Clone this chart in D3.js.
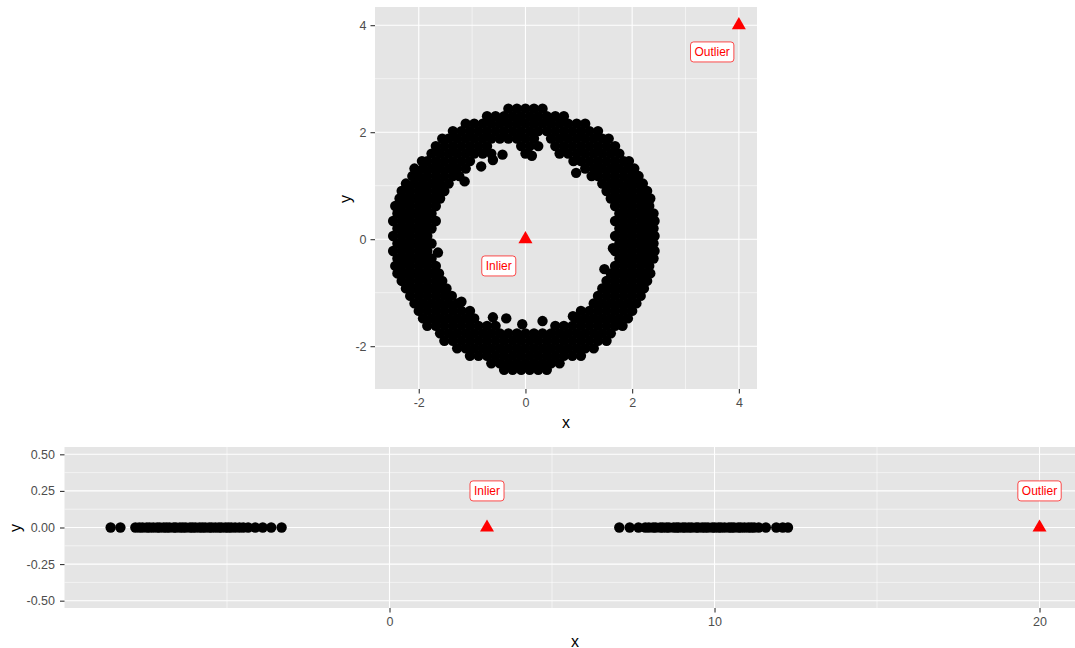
<!DOCTYPE html>
<html><head><meta charset="utf-8">
<script src="https://cdn.jsdelivr.net/npm/d3@7"></script>
<style>
body{margin:0;background:#fff}
svg{display:block}
text{font-family:"Liberation Sans",Arial,Helvetica,sans-serif}
</style>
</head><body>
<svg id="c" width="1075" height="648"></svg>
<script>
// ---------------- DATA ----------------
// Top panel: ring of points, stored row by row (y of row, x values in that row)
const ringRowY = [2.44, 2.30, 2.16, 2.02, 1.88, 1.74, 1.60, 1.46, 1.32, 1.18, 1.04, 0.90, 0.76, 0.62, 0.48, 0.34, 0.20, 0.06,
  -0.08, -0.22, -0.36, -0.50, -0.64, -0.78, -0.92, -1.06, -1.20, -1.34, -1.48, -1.62, -1.76, -1.90, -2.04, -2.18, -2.32, -2.44];
const ringRowX = [
  [-0.32,-0.16,0,0.16,0.32],
  [-0.72,-0.56,-0.4,-0.24,-0.08,0.08,0.24,0.4,0.56,0.72],
  [-1.12,-0.96,-0.8,-0.64,-0.48,-0.32,-0.16,0,0.16,0.32,0.48,0.64,0.8,0.96,1.12],
  [-1.36,-1.2,-1.04,-0.88,-0.72,-0.56,-0.4,-0.24,-0.08,0.08,0.24,0.4,0.56,0.72,0.88,1.04,1.2,1.36],
  [-1.56,-1.44,-1.28,-1.12,-0.96,-0.8,-0.64,-0.48,-0.32,-0.16,0,0.16,0.48,0.64,0.8,0.96,1.12,1.28,1.44,1.56],
  [-1.68,-1.52,-1.36,-1.2,-1.04,-0.88,-0.72,-0.08,0.08,0.24,0.56,0.72,0.88,1.04,1.2,1.36,1.52,1.68],
  [-1.76,-1.6,-1.44,-1.28,-1.12,-0.96,-0.8,-0.64,0,0.64,0.8,0.96,1.12,1.28,1.44,1.6,1.76],
  [-1.94,-1.84,-1.68,-1.52,-1.36,-1.2,-1.04,0.9,1.04,1.2,1.36,1.52,1.68,1.84,1.94],
  [-2.08,-1.92,-1.76,-1.6,-1.44,-1.28,-1.12,1.12,1.28,1.44,1.6,1.76,1.92,2.04],
  [-2.12,-2.0,-1.84,-1.68,-1.52,-1.36,-1.24,1.24,1.36,1.52,1.68,1.84,2.0,2.12],
  [-2.24,-2.08,-1.92,-1.76,-1.6,-1.44,1.44,1.6,1.76,1.92,2.08,2.2],
  [-2.32,-2.16,-2.0,-1.84,-1.68,-1.52,1.52,1.68,1.84,2.0,2.16,2.28],
  [-2.36,-2.24,-2.08,-1.92,-1.76,-1.6,1.6,1.76,1.92,2.08,2.24,2.34],
  [-2.44,-2.32,-2.16,-2.0,-1.84,-1.68,1.68,1.84,2.0,2.16,2.32],
  [-2.4,-2.24,-2.08,-1.92,-1.76,1.76,1.92,2.08,2.24,2.4],
  [-2.48,-2.32,-2.16,-2.0,-1.84,-1.68,1.68,1.84,2.0,2.16,2.32,2.42],
  [-2.4,-2.24,-2.08,-1.92,-1.76,1.76,1.92,2.08,2.24,2.4],
  [-2.48,-2.32,-2.16,-2.0,-1.84,1.68,1.84,2.0,2.16,2.32,2.42],
  [-2.4,-2.24,-2.08,-1.92,-1.76,1.76,1.92,2.08,2.24,2.4],
  [-2.48,-2.32,-2.16,-2.0,-1.84,1.68,1.84,2.0,2.16,2.32,2.42],
  [-2.4,-2.24,-2.08,-1.92,-1.76,1.76,1.92,2.08,2.24,2.4],
  [-2.44,-2.32,-2.16,-2.0,-1.84,-1.68,1.68,1.84,2.0,2.16,2.32],
  [-2.4,-2.24,-2.08,-1.92,-1.76,-1.62,1.6,1.76,1.92,2.08,2.24,2.34],
  [-2.32,-2.16,-2.0,-1.84,-1.68,-1.56,1.52,1.68,1.84,2.0,2.16,2.28],
  [-2.24,-2.08,-1.92,-1.76,-1.6,-1.48,1.44,1.6,1.76,1.92,2.08,2.22],
  [-2.16,-2.0,-1.84,-1.68,-1.52,-1.38,1.36,1.52,1.68,1.84,2.0,2.16],
  [-2.08,-1.92,-1.76,-1.6,-1.44,-1.28,1.28,1.44,1.6,1.76,1.92,2.08],
  [-2.0,-1.84,-1.68,-1.52,-1.36,-1.2,-1.04,1.04,1.2,1.36,1.52,1.68,1.84,2.0],
  [-1.92,-1.76,-1.6,-1.44,-1.28,-1.12,-0.96,0.96,1.12,1.28,1.44,1.6,1.76,1.92],
  [-1.84,-1.68,-1.52,-1.36,-1.2,-1.04,-0.88,-0.72,-0.56,0.56,0.72,0.88,1.04,1.2,1.36,1.52,1.68,1.82],
  [-1.6,-1.44,-1.28,-1.12,-0.96,-0.8,-0.64,-0.48,-0.32,-0.16,0,0.16,0.32,0.48,0.64,0.8,0.96,1.12,1.28,1.44,1.6],
  [-1.52,-1.36,-1.2,-1.04,-0.88,-0.72,-0.56,-0.4,-0.24,-0.08,0.08,0.24,0.4,0.56,0.72,0.88,1.04,1.2,1.36,1.52],
  [-1.28,-1.12,-0.96,-0.8,-0.64,-0.48,-0.32,-0.16,0,0.16,0.32,0.48,0.64,0.8,0.96,1.12,1.28],
  [-1.04,-0.88,-0.72,-0.56,-0.4,-0.24,-0.08,0.08,0.24,0.4,0.56,0.72,0.88,1.04],
  [-0.64,-0.48,-0.32,-0.16,0,0.16,0.32,0.48,0.64],
  [-0.4,-0.24,-0.08,0.08,0.24,0.4]
];
// scattered points on the inner side of the ring
const ringExtraX = [-0.43,-0.61,-0.83,-1.14,0.12,0.95,-1.64,1.64,1.48,0.89,-0.61,-0.36,0.32,-0.06,-1.2];
const ringExtraY = [1.58,1.48,1.36,1.08,1.56,1.24,-0.25,-0.17,-0.56,-1.44,-1.46,-1.48,-1.53,-1.59,-1.17];
const topMarkX = [0, 4];
const topMarkY = [0, 4];
const topLabelText = ["Inlier", "Outlier"];
const topLabelX = [-0.5, 3.5];
const topLabelY = [-0.5, 3.5];
const topTicks = [-2, 0, 2, 4];
const topTickLabels = ["-2", "0", "2", "4"];
const topMinor = [-1, 1, 3];

// Bottom panel: 1-D points at y = 0
const lineGroupA = [-8.58,-8.28,-7.82,-7.7,-7.6,-7.47,-7.38,-7.27,-7.15,-7.07,-6.95,-6.86,-6.77,-6.64,-6.57,-6.45,-6.36,
  -6.27,-6.14,-6.06,-5.97,-5.85,-5.76,-5.67,-5.55,-5.47,-5.36,-5.25,-5.17,-5.05,-4.96,-4.87,-4.75,-4.62,-4.5,-4.35,-4.13,-3.9,-3.64,-3.32];
const lineGroupB = [7.07,7.39,7.66,7.87,7.98,8.11,8.19,8.33,8.41,8.52,8.6,8.74,8.83,8.9,9.02,9.1,9.21,9.3,9.43,9.5,9.62,
  9.71,9.8,9.93,10.01,10.12,10.2,10.31,10.44,10.52,10.6,10.73,10.81,10.92,11.04,11.13,11.22,11.36,11.58,11.9,12.1,12.26];
const botMarkX = [3, 20];
const botMarkY = [0, 0];
const botLabelText = ["Inlier", "Outlier"];
const botLabelX = [3, 20];
const botLabelY = [0.25, 0.25];
const botXTicks = [0, 10, 20];
const botXTickLabels = ["0", "10", "20"];
const botXMinor = [-5, 5, 15];
const botYTicks = [-0.5, -0.25, 0, 0.25, 0.5];
const botYTickLabels = ["-0.50", "-0.25", "0.00", "0.25", "0.50"];
const botYMinor = [-0.375, -0.125, 0.125, 0.375];

// ---------------- DRAW ----------------
const svg = d3.select("#c");
const PANEL = "#e5e5e5";
const FONT = '"Liberation Sans",Arial,sans-serif';

function drawPanel(xs, ys, xMaj, xMin, yMaj, yMin) {
  const [x0, x1] = xs.range(), [y0, y1] = ys.range();
  const g = svg.append("g");
  g.append("rect").attr("x", x0).attr("y", y1).attr("width", x1 - x0).attr("height", y0 - y1).attr("fill", PANEL);
  g.selectAll(null).data(xMin).join("line")
    .attr("x1", d => xs(d)).attr("x2", d => xs(d)).attr("y1", y0).attr("y2", y1)
    .attr("stroke", "#fff").attr("stroke-width", 0.55);
  g.selectAll(null).data(yMin).join("line")
    .attr("y1", d => ys(d)).attr("y2", d => ys(d)).attr("x1", x0).attr("x2", x1)
    .attr("stroke", "#fff").attr("stroke-width", 0.55);
  g.selectAll(null).data(xMaj).join("line")
    .attr("x1", d => xs(d)).attr("x2", d => xs(d)).attr("y1", y0).attr("y2", y1)
    .attr("stroke", "#fff").attr("stroke-width", 1.1);
  g.selectAll(null).data(yMaj).join("line")
    .attr("y1", d => ys(d)).attr("y2", d => ys(d)).attr("x1", x0).attr("x2", x1)
    .attr("stroke", "#fff").attr("stroke-width", 1.1);
  return g;
}

function styleAxis(g) {
  g.select(".domain").remove();
  g.selectAll(".tick line").attr("stroke", "#333").attr("stroke-width", 1.1);
  g.selectAll(".tick text").attr("fill", "#4d4d4d").style("font-size", "12.5px").style("font-family", FONT);
}

function drawLabels(xs, ys, texts, lx, ly) {
  texts.forEach((t, i) => {
    const g = svg.append("g");
    const txt = g.append("text").attr("x", xs(lx[i])).attr("y", ys(ly[i]))
      .attr("text-anchor", "middle").attr("dominant-baseline", "central")
      .attr("fill", "#f00").style("font-size", "12px").text(t);
    const b = txt.node().getBBox();
    g.insert("rect", "text")
      .attr("x", b.x - 4).attr("y", ys(ly[i]) - 10).attr("width", b.width + 8).attr("height", 20)
      .attr("rx", 3).attr("fill", "#fff").attr("stroke", "#f00").attr("stroke-width", 0.7);
  });
}

function axisTitle(x, y, rot, t) {
  svg.append("text").attr("transform", `translate(${x},${y}) rotate(${rot})`).attr("text-anchor", "middle")
    .attr("dominant-baseline", "central").style("font-size", "16px").attr("fill", "#000").text(t);
}

const tri = d3.symbol().type(d3.symbolTriangle).size(85);

// ---- Top panel ----
const tx = d3.scaleLinear().domain([-2.82, 4.34]).range([375, 757]);
const ty = d3.scaleLinear().domain([-2.8, 4.34]).range([389, 7]);
drawPanel(tx, ty, topTicks, topMinor, topTicks, topMinor);

const ringPts = [];
ringRowY.forEach((y, i) => ringRowX[i].forEach(x => ringPts.push([x, y])));
ringExtraX.forEach((x, i) => ringPts.push([x, ringExtraY[i]]));
svg.append("g").selectAll("circle").data(ringPts).join("circle")
  .attr("cx", d => tx(d[0])).attr("cy", d => ty(d[1])).attr("r", 5.2).attr("fill", "#000");

svg.append("g").selectAll("path").data(topMarkX).join("path")
  .attr("d", tri).attr("fill", "#f00")
  .attr("transform", (d, i) => `translate(${tx(d)},${ty(topMarkY[i])})`);
drawLabels(tx, ty, topLabelText, topLabelX, topLabelY);

const tax = svg.append("g").attr("transform", "translate(0,389)")
  .call(d3.axisBottom(tx).tickValues(topTicks).tickSize(4.5).tickPadding(4.5).tickFormat((d, i) => topTickLabels[i]));
styleAxis(tax);
const tay = svg.append("g").attr("transform", "translate(375,0)")
  .call(d3.axisLeft(ty).tickValues(topTicks).tickSize(4.5).tickPadding(4).tickFormat((d, i) => topTickLabels[i]));
styleAxis(tay);
axisTitle(566, 422, 0, "x");
axisTitle(345, 199, -90, "y");

// ---- Bottom panel ----
const bx = d3.scaleLinear().domain([-10.0, 21.43]).range([64.5, 1086]);
const by = d3.scaleLinear().domain([-0.55, 0.55]).range([608, 447]);
drawPanel(bx, by, botXTicks, botXMinor, botYTicks, botYMinor);

const linePts = lineGroupA.concat(lineGroupB);
svg.append("g").selectAll("circle").data(linePts).join("circle")
  .attr("cx", d => bx(d)).attr("cy", by(0)).attr("r", 5.2).attr("fill", "#000");
svg.append("g").selectAll("path").data(botMarkX).join("path")
  .attr("d", tri).attr("fill", "#f00")
  .attr("transform", (d, i) => `translate(${bx(d)},${by(botMarkY[i])})`);
drawLabels(bx, by, botLabelText, botLabelX, botLabelY);

const bax = svg.append("g").attr("transform", "translate(0,608)")
  .call(d3.axisBottom(bx).tickValues(botXTicks).tickSize(4.5).tickPadding(4.5).tickFormat((d, i) => botXTickLabels[i]));
styleAxis(bax);
const bay = svg.append("g").attr("transform", "translate(64.5,0)")
  .call(d3.axisLeft(by).tickValues(botYTicks).tickSize(4.5).tickPadding(5)
    .tickFormat((d, i) => botYTickLabels[i]));
styleAxis(bay);
axisTitle(575, 641, 0, "x");
axisTitle(15, 528, -90, "y");
</script>
</body></html>
